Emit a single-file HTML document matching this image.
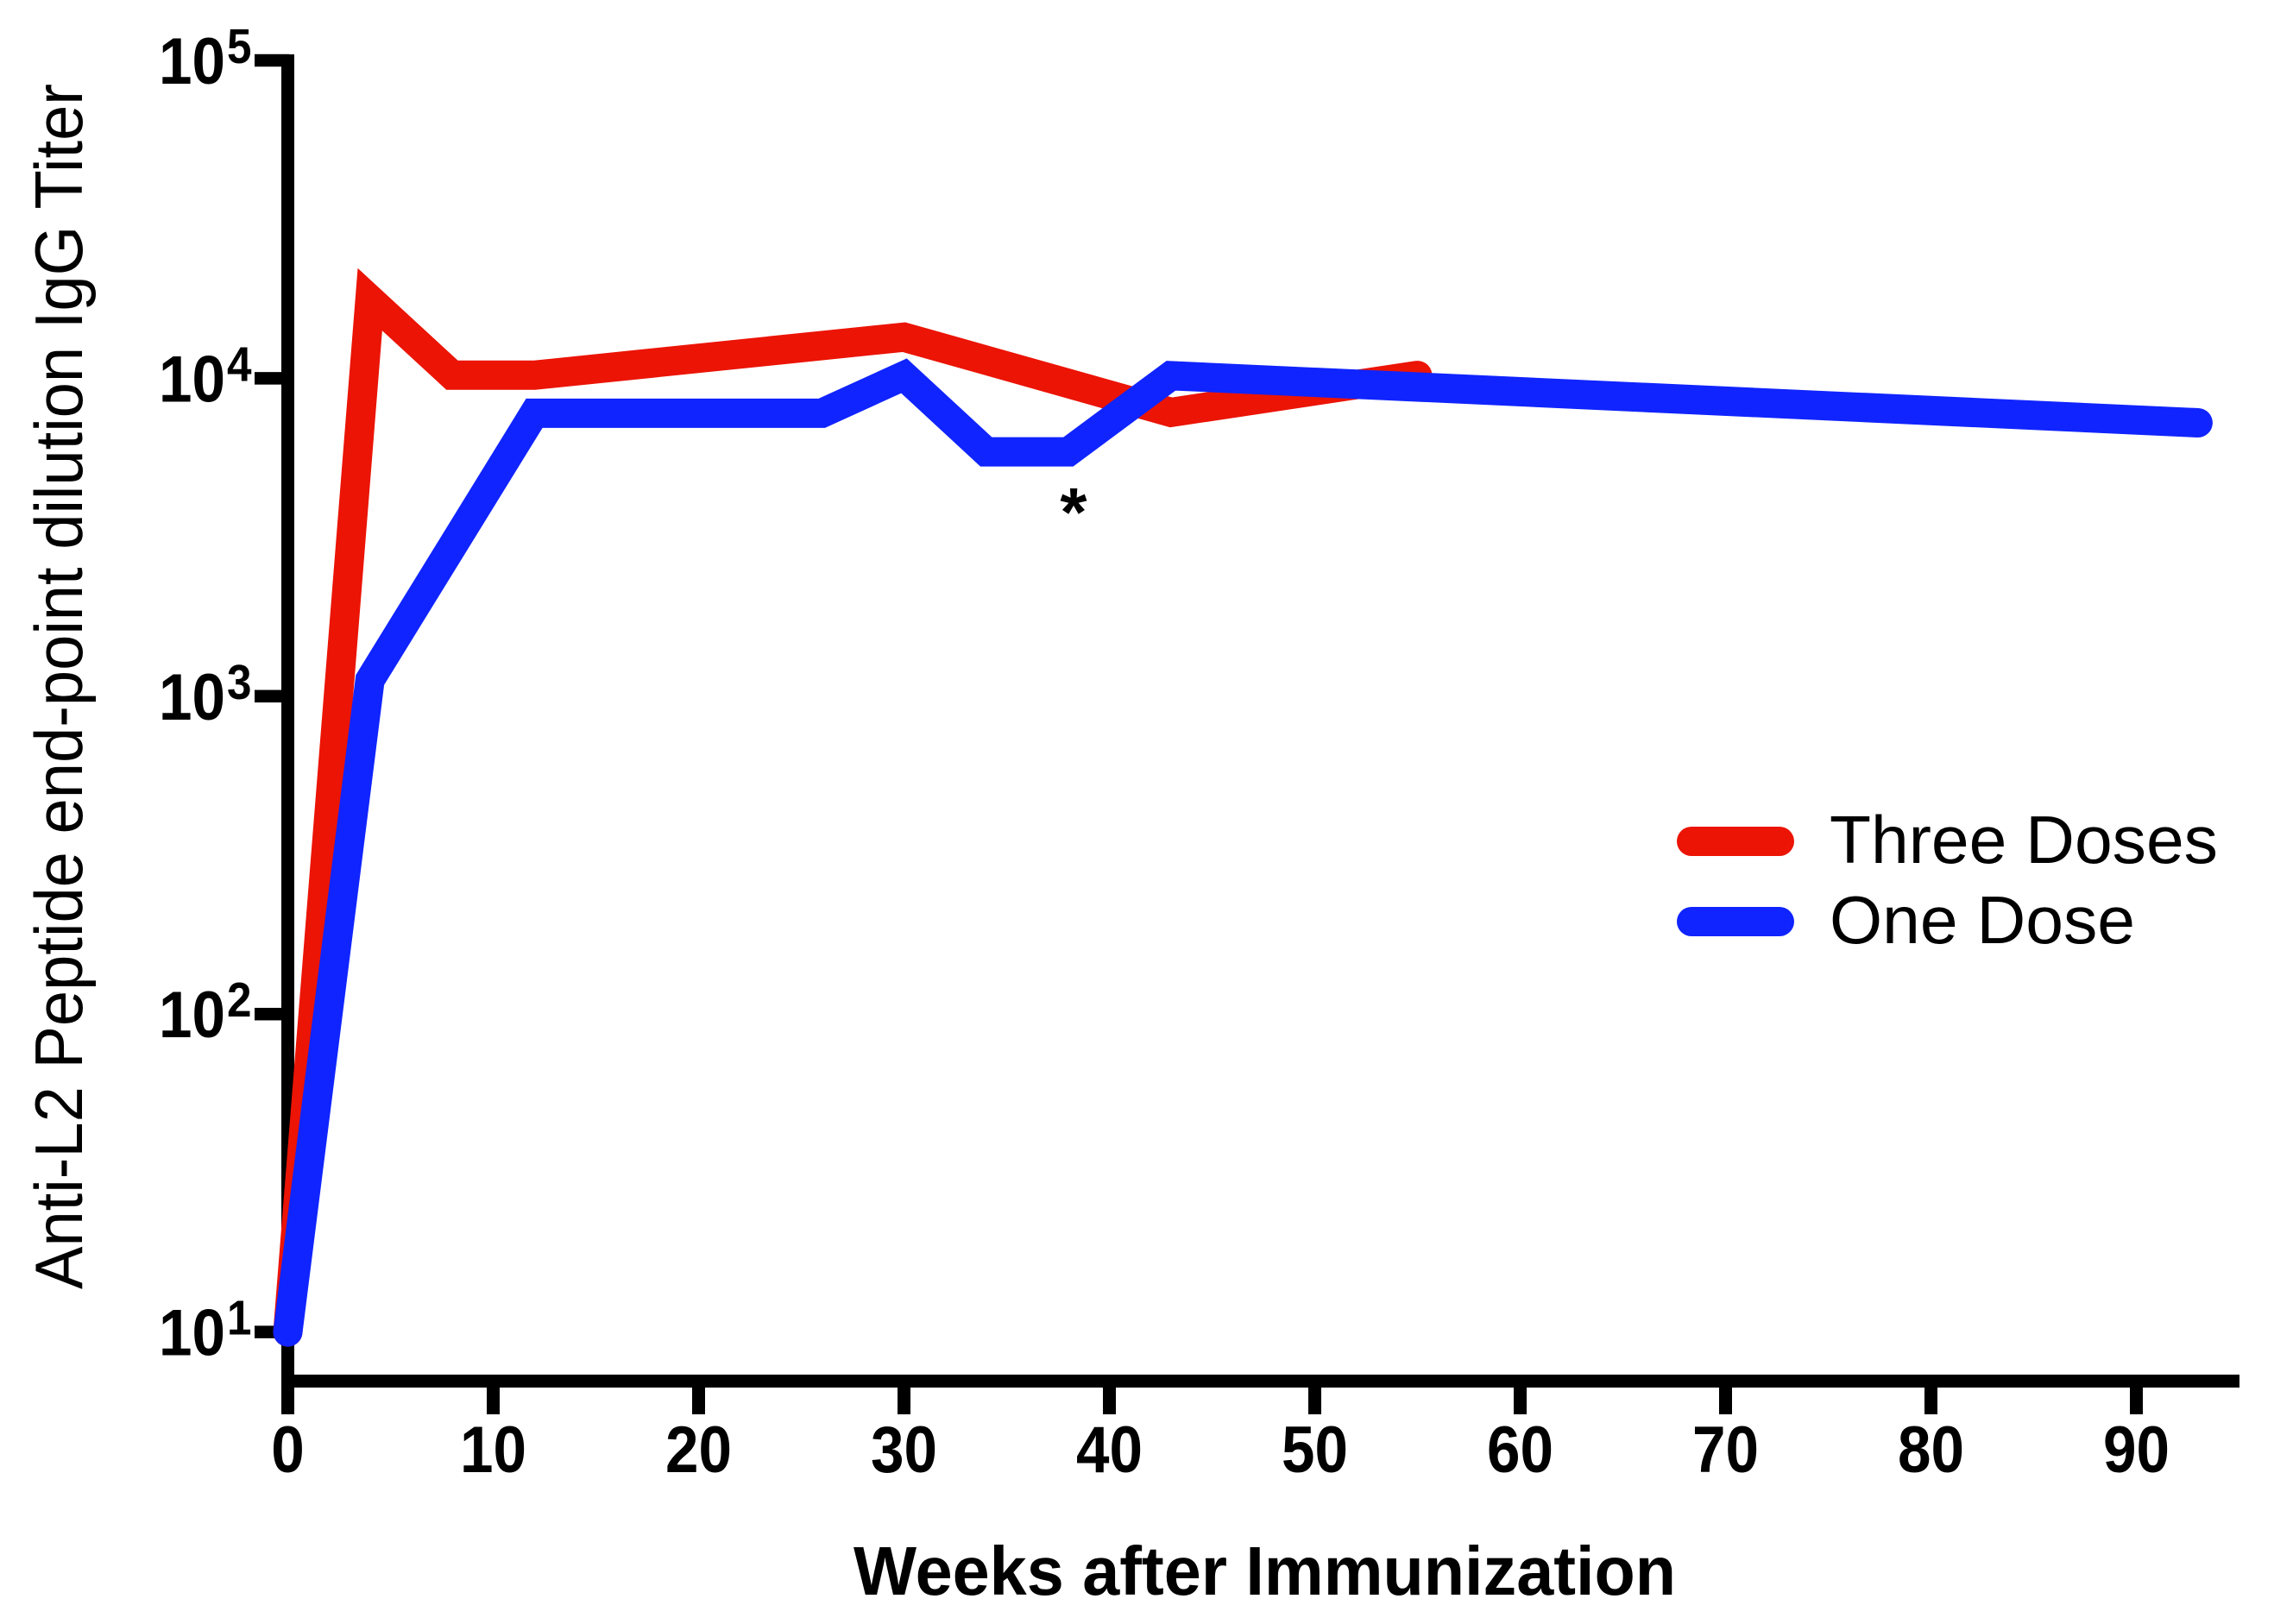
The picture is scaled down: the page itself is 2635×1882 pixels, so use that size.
<!DOCTYPE html>
<html lang="en">
<head>
<meta charset="utf-8">
<title>Anti-L2 Peptide IgG Titer</title>
<style>
html,body{margin:0;padding:0;background:#fff;}
svg{display:block;}
text{fill:#000;font-family:"Liberation Sans",sans-serif;}
.tick{font-weight:700;font-size:76px;}
.sup{font-weight:700;font-size:57px;}
</style>
</head>
<body>
<svg id="chart" xmlns="http://www.w3.org/2000/svg" width="2635" height="1882" viewBox="0 0 2635 1882">
  <rect x="0" y="0" width="2635" height="1882" fill="#fff"/>
  <g id="axes"></g>
  <g id="series"></g>
  <text transform="translate(95,1494) rotate(-90)" font-size="78" textLength="1397" lengthAdjust="spacingAndGlyphs">Anti-L2 Peptide end-point dilution IgG Titer</text>
  <text x="989" y="1848" font-size="80" font-weight="700" textLength="953" lengthAdjust="spacingAndGlyphs">Weeks after Immunization</text>
  <text x="1244" y="621" font-size="80" font-weight="700" text-anchor="middle">*</text>
  <g>
    <line x1="1960" y1="975" x2="2062" y2="975" stroke="#EB1405" stroke-width="34" stroke-linecap="round"/>
    <text x="2120" y="1000" font-size="78" textLength="450" lengthAdjust="spacingAndGlyphs">Three Doses</text>
    <line x1="1960" y1="1068" x2="2062" y2="1068" stroke="#1024FF" stroke-width="34" stroke-linecap="round"/>
    <text x="2120" y="1093" font-size="78" textLength="354" lengthAdjust="spacingAndGlyphs">One Dose</text>
  </g>
</svg>
<script>
const xTicks = [0, 10, 20, 30, 40, 50, 60, 70, 80, 90];
const yExponents = [1, 2, 3, 4, 5];
const threeDoseWeeks = [0, 4, 8, 12, 30, 43, 55];
const threeDoseTiters = [10, 17700, 10230, 10230, 13470, 7810, 10210];
const oneDoseWeeks = [0, 4, 12, 26, 30, 34, 38, 43, 93];
const oneDoseTiters = [10, 1125, 7762, 7762, 10180, 5870, 5870, 10190, 7244];

const NS = 'http://www.w3.org/2000/svg';
function xPos(week) { return 333.5 + week * 23.8; }
function yPos(titer) { return 70 + (5 - Math.log10(titer)) * 368.4; }
function yExpPos(exp) { return 70 + (5 - exp) * 368.4; }

const axes = document.getElementById('axes');
const seriesGroup = document.getElementById('series');

function rect(x, y, w, h) {
  const r = document.createElementNS(NS, 'rect');
  r.setAttribute('x', x);
  r.setAttribute('y', y);
  r.setAttribute('width', w);
  r.setAttribute('height', h);
  r.setAttribute('fill', '#000');
  return r;
}
function label(x, y, cls, anchor, content, digitWidth) {
  const t = document.createElementNS(NS, 'text');
  t.setAttribute('x', x);
  t.setAttribute('y', y);
  t.setAttribute('class', cls);
  t.setAttribute('text-anchor', anchor);
  t.setAttribute('textLength', content.length * digitWidth);
  t.setAttribute('lengthAdjust', 'spacingAndGlyphs');
  t.textContent = content;
  return t;
}

const yAxisLine = rect(326, 63, 15, 1576);


axes.appendChild(yAxisLine);

const xAxisLine = rect(326, 1593, 2269, 15);


axes.appendChild(xAxisLine);

yExponents.forEach(function (exp) {
  const cy = yExpPos(exp);
  const tick = rect(295, cy - 7.25, 40, 14.5);
  
  
  axes.appendChild(tick);
  const base = label(261, cy + 27, 'tick', 'end', '10', 38.5);
  
  
  axes.appendChild(base);
  const power = label(263, cy + 3, 'sup', 'start', String(exp), 28.5);
  
  
  axes.appendChild(power);
});

xTicks.forEach(function (week) {
  const cx = xPos(week);
  const tick = rect(cx - 7.5, 1600, 15, 39);
  
  
  axes.appendChild(tick);
  const text = label(cx, 1706, 'tick', 'middle', String(week), 38.5);
  
  
  axes.appendChild(text);
});

function buildLine(weeks, titers, color) {
  const line = document.createElementNS(NS, 'polyline');
  const pts = weeks.map(function (w, i) {
    return xPos(w).toFixed(1) + ',' + yPos(titers[i]).toFixed(1);
  }).join(' ');
  line.setAttribute('points', pts);
  line.setAttribute('fill', 'none');
  line.setAttribute('stroke', color);
  line.setAttribute('stroke-width', '34');
  line.setAttribute('stroke-linecap', 'round');
  line.setAttribute('stroke-linejoin', 'miter');
  line.setAttribute('stroke-miterlimit', '10');
  return line;
}

const threeDoseLine = buildLine(threeDoseWeeks, threeDoseTiters, '#EB1405');


seriesGroup.appendChild(threeDoseLine);

const oneDoseLine = buildLine(oneDoseWeeks, oneDoseTiters, '#1024FF');


seriesGroup.appendChild(oneDoseLine);
</script>
</body>
</html>
